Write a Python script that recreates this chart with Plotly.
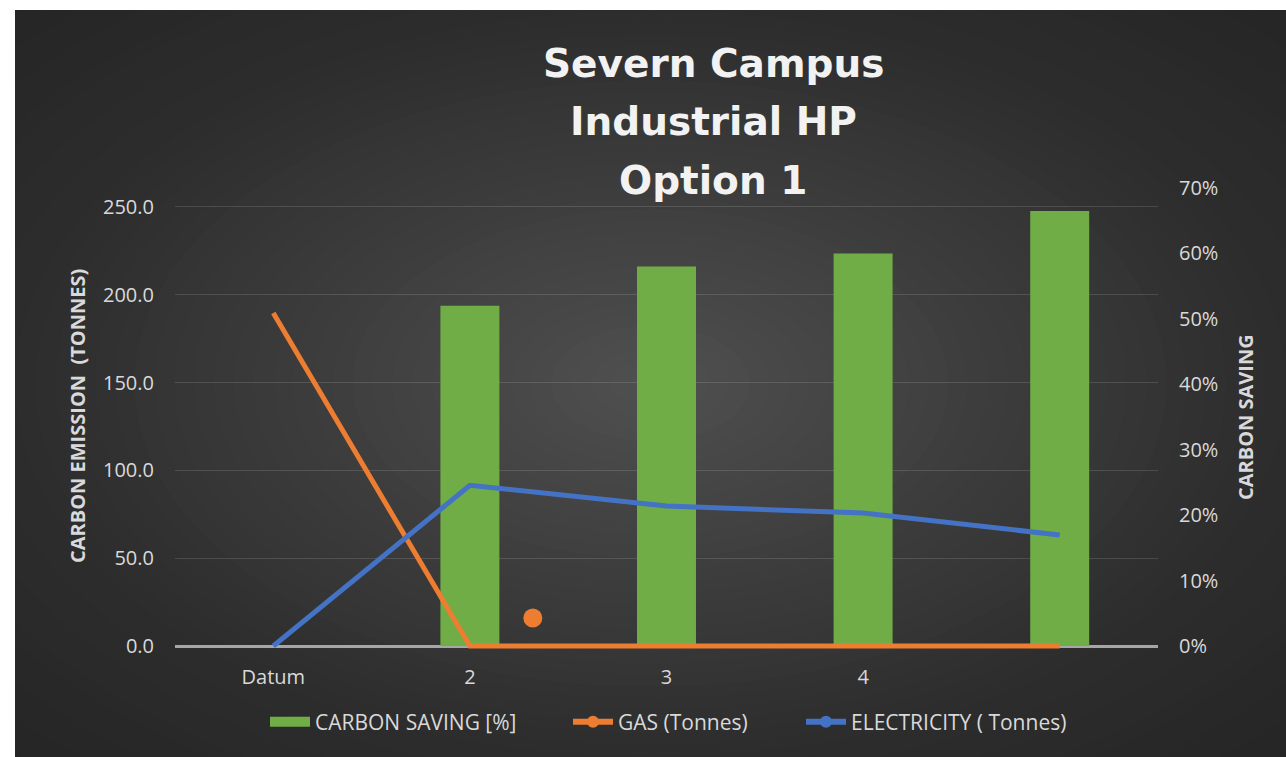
import plotly.graph_objects as go

# ---- data -------------------------------------------------------------
categories = ["Datum", "2", "3", "4", ""]
cat_pos = [1, 2, 3, 4, 5]
carbon_saving = [None, 0.52, 0.58, 0.60, 0.665]      # fraction
gas_tonnes = [189.6, 0, 0, 0, 0]
electricity_tonnes = [0, 91.5, 79.7, 75.7, 63.2]
gas_point_x = [2.32]
gas_point_y = [15.9]

left_ticks = [0, 50, 100, 150, 200, 250]
right_ticks = [0, 0.1, 0.2, 0.3, 0.4, 0.5, 0.6, 0.7]

GREEN = "#70AD47"
ORANGE = "#ED7D31"
BLUE = "#4472C4"
TICK = "#d9d9d9"

W, H = 1286, 757
ZERO_PY = 646            # pixel row of the zero baseline
BELOW = 6                # plot area extends a little under zero so lines at 0 are not clipped
ML, MR, MT, MB = 175, 128, 188, H - ZERO_PY - BELOW
PW, PH = W - ML - MR, H - MT - MB

LEFT_MAX, RIGHT_MAX = 260.8, 0.70
ZERO_SPAN = ZERO_PY - MT
left_min = -LEFT_MAX * BELOW / ZERO_SPAN
right_min = -RIGHT_MAX * BELOW / ZERO_SPAN


def fx(px):
    return (px - ML) / PW


def fy(py):
    return (H - MB - py) / PH


fig = go.Figure()

# bars on the percentage axis (base subplot, drawn underneath)
fig.add_trace(go.Bar(x=cat_pos, y=carbon_saving, yaxis="y", width=0.3,
                     marker=dict(color=GREEN, line=dict(width=0)),
                     showlegend=False, hoverinfo="skip"))

# emission lines on the tonnes axis (overlay subplot, drawn on top)
fig.add_trace(go.Scatter(x=cat_pos, y=gas_tonnes, yaxis="y2", mode="lines",
                         line=dict(color=ORANGE, width=5), showlegend=False))
fig.add_trace(go.Scatter(x=gas_point_x, y=gas_point_y, yaxis="y2", mode="markers",
                         marker=dict(color=ORANGE, size=19, line=dict(width=0)),
                         showlegend=False))
fig.add_trace(go.Scatter(x=cat_pos, y=electricity_tonnes, yaxis="y2", mode="lines",
                         line=dict(color=BLUE, width=5), showlegend=False))

# legend entries, one legend box each
legend_font = dict(family="Open Sans", size=21, color=TICK)
fig.add_trace(go.Scatter(x=[None], y=[None], yaxis="y2", mode="lines",
                         line=dict(color=GREEN, width=16),
                         name="CARBON SAVING [%]", legend="legend"))
fig.add_trace(go.Scatter(x=[None], y=[None], yaxis="y2", mode="lines+markers",
                         line=dict(color=ORANGE, width=6),
                         marker=dict(color=ORANGE, size=12),
                         name="GAS (Tonnes)", legend="legend2"))
fig.add_trace(go.Scatter(x=[None], y=[None], yaxis="y2", mode="lines+markers",
                         line=dict(color=BLUE, width=6),
                         marker=dict(color=BLUE, size=12),
                         name="ELECTRICITY ( Tonnes)", legend="legend3"))


def legend_at(px_left):
    return dict(orientation="h", x=fx(px_left), y=fy(722), xanchor="left",
                yanchor="middle", bgcolor="rgba(0,0,0,0)", font=legend_font,
                itemwidth=40)


# ---- radial background --------------------------------------------------
shapes = []
box_l, box_t, box_r, box_b = 15, 10, W, H
cx, cy = (box_l + box_r) / 2, (box_t + box_b) / 2
A, B = (box_r - box_l) / 2, (box_b - box_t) / 2


def shade(d):
    if d <= 1.0:
        v = 80 - 35 * d
    else:
        v = 45 - (d - 1.0) / 0.5 * 9
    v = int(round(max(34, min(82, v))))
    return "rgb({0},{0},{0})".format(v)


steps = 48
for k in range(steps, 0, -1):
    d = 1.5 * k / steps
    shapes.append(dict(type="circle", xref="paper", yref="paper", layer="below",
                       x0=fx(cx - A * d), x1=fx(cx + A * d),
                       y0=fy(cy + B * d), y1=fy(cy - B * d),
                       fillcolor=shade(d), line=dict(width=0)))

# white page margin around the dark chart panel
shapes.append(dict(type="rect", xref="paper", yref="paper", layer="below",
                   x0=fx(-20), x1=fx(box_l), y0=fy(H + 20), y1=fy(-20),
                   fillcolor="white", line=dict(width=0)))
shapes.append(dict(type="rect", xref="paper", yref="paper", layer="below",
                   x0=fx(-20), x1=fx(W + 20), y0=fy(box_t), y1=fy(-20),
                   fillcolor="white", line=dict(width=0)))

# ---- titles -------------------------------------------------------------
title_font = dict(family="DejaVu Sans", size=39, color="#f2f2f2")
annotations = []
for text, py in [("<b>Severn Campus</b>", 63), ("<b>Industrial HP</b>", 121),
                 ("<b>Option 1</b>", 181)]:
    annotations.append(dict(text=text, x=fx(713), y=fy(py), xref="paper", yref="paper",
                            xanchor="center", yanchor="middle", showarrow=False,
                            font=title_font))

axis_title_font = dict(family="Open Sans", size=20, color=TICK)
annotations.append(dict(text="<b>CARBON EMISSION  (TONNES)</b>", textangle=-90,
                        x=fx(77), y=fy(416), xref="paper", yref="paper",
                        xanchor="center", yanchor="middle", showarrow=False,
                        font=axis_title_font))
annotations.append(dict(text="<b>CARBON SAVING</b>", textangle=-90,
                        x=fx(1245), y=fy(417), xref="paper", yref="paper",
                        xanchor="center", yanchor="middle", showarrow=False,
                        font=axis_title_font))

fig.update_layout(
    width=W, height=H,
    margin=dict(l=ML, r=MR, t=MT, b=MB, pad=0),
    paper_bgcolor="white",
    plot_bgcolor="rgba(0,0,0,0)",
    font=dict(family="Open Sans", color=TICK),
    shapes=shapes,
    annotations=annotations,
    showlegend=True,
    legend=legend_at(265),
    legend2=legend_at(568),
    legend3=legend_at(801),
    xaxis=dict(range=[0.5, 5.5], tickmode="array", tickvals=cat_pos,
               ticktext=categories, showgrid=False, zeroline=False,
               showline=False, ticks="", ticklabelstandoff=11,
               tickfont=dict(family="Open Sans", size=20, color=TICK),
               fixedrange=True),
    yaxis=dict(range=[right_min, RIGHT_MAX], side="right", tickmode="array",
               tickvals=right_ticks, tickformat=".0%", showgrid=False,
               zeroline=False, ticks="", ticklabelstandoff=20,
               tickfont=dict(family="Open Sans", size=20, color=TICK)),
    yaxis2=dict(range=[left_min, LEFT_MAX], side="left", overlaying="y",
                tickmode="array", tickvals=left_ticks, tickformat=".1f",
                showgrid=True, gridcolor="rgba(255,255,255,0.13)", gridwidth=1,
                zeroline=True, zerolinecolor="#a6a6a6", zerolinewidth=2.5,
                ticks="", ticklabelstandoff=20,
                tickfont=dict(family="Open Sans", size=20, color=TICK)),
)

fig.write_html("out.html")
